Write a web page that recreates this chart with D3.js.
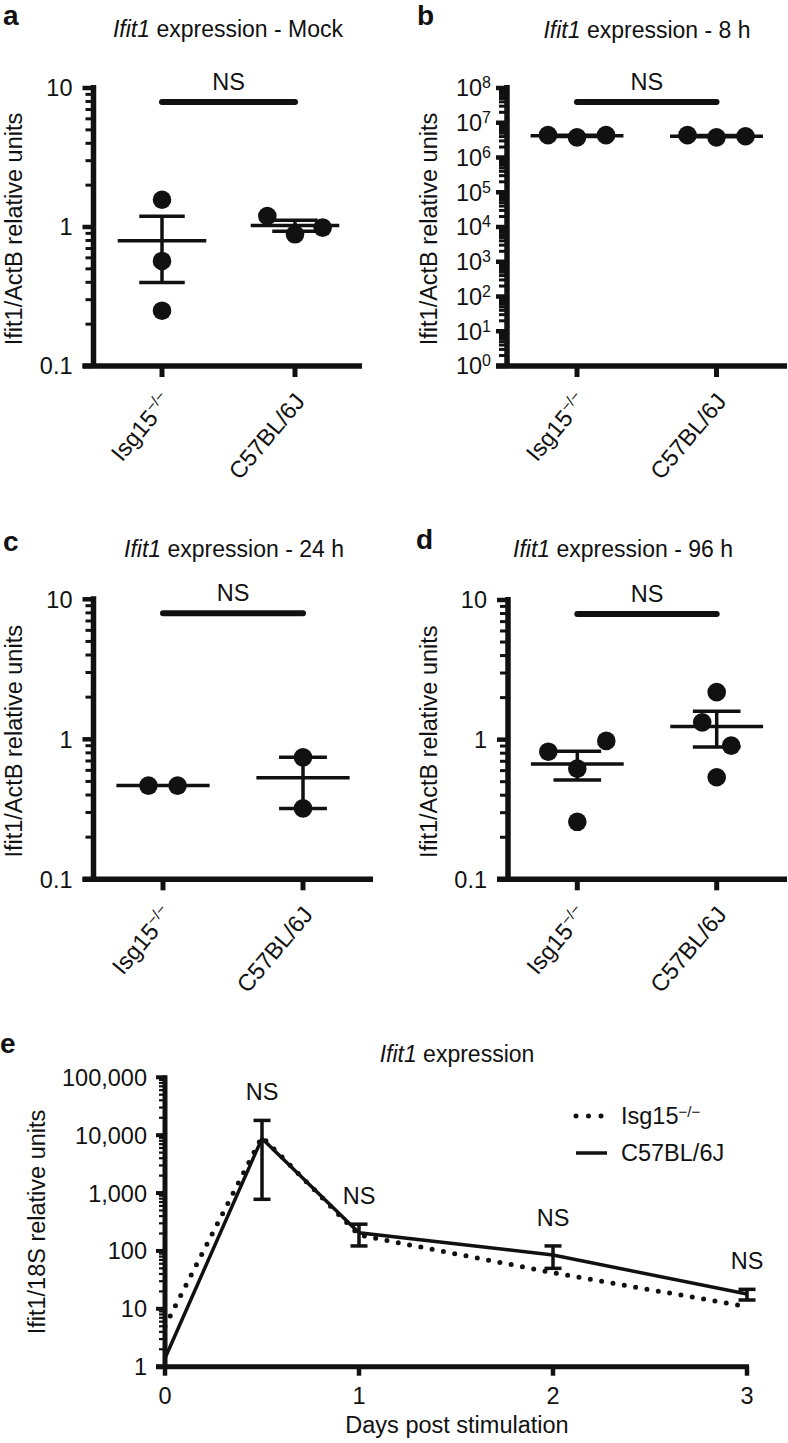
<!DOCTYPE html>
<html><head><meta charset="utf-8">
<script src="https://cdn.jsdelivr.net/npm/d3@7"></script>
<style>
body{margin:0;background:#fff}
svg{display:block}
text{font-family:"Liberation Sans",Arial,Helvetica,sans-serif;fill:#111}
</style>
</head><body>
<svg id="fig" width="788" height="1443"></svg>
<script>
// ---------- data ----------
const groups = ["Isg15", "C57BL/6J"];
const groupSup = ["\u2212/\u2212", ""];
const mockIsg15 = [1.57, 0.57, 0.25];
const mockC57 = [1.20, 0.886, 0.99];
const h8Isg15 = [4.4e6, 3.8e6, 4.4e6];
const h8C57 = [4.4e6, 3.8e6, 4.1e6];
const h24Isg15 = [0.467, 0.467];
const h24C57 = [0.743, 0.321];
const h96Isg15 = [0.82, 0.62, 0.98, 0.258];
const h96C57 = [2.19, 1.33, 0.906, 0.538];
const decimalTicks = [0.1, 1, 10];
const exponentTicks = [0, 1, 2, 3, 4, 5, 6, 7, 8];
const days = [0, 0.5, 1, 2, 3];
const dayTicks = [0, 1, 2, 3];
const courseIsg15 = [5, 9400, 188, 42, 10.9];
const courseC57 = [1.4, 8800, 206, 85, 18];
const courseErrHigh = [null, 18000, 290, 122, 21.7];
const courseErrLow = [null, 780, 122, 50, 14.2];
const courseTicks = [1, 10, 100, 1000, 10000, 100000];
const nsDays = [0.5, 1, 2, 3];

// ---------- helpers ----------
const svg = d3.select("#fig");
const INK = "#111";
const FS = "23.5px";
const TFS = "23px";

function minorValues(lo, hi) {
  const out = [];
  for (let e = Math.round(Math.log10(lo)); e < Math.round(Math.log10(hi)); e++)
    for (let k = 2; k <= 9; k++) out.push(k * Math.pow(10, e));
  return out;
}

function swarmOffsets(values, y, spacing, tol) {
  const idx = values.map((v, i) => i).sort((a, b) => y(values[a]) - y(values[b]));
  const clusters = [];
  let cur = [idx[0]];
  for (let k = 1; k < idx.length; k++) {
    if (y(values[idx[k]]) - y(values[idx[k - 1]]) < tol) cur.push(idx[k]);
    else { clusters.push(cur); cur = [idx[k]]; }
  }
  clusters.push(cur);
  const off = new Array(values.length).fill(0);
  clusters.forEach(c => {
    c.sort((a, b) => a - b);
    c.forEach((i, j) => off[i] = (j - (c.length - 1) / 2) * spacing);
  });
  return off;
}

function titleText(g, x, y, rest) {
  const t = g.append("text").attr("x", x).attr("y", y).attr("text-anchor", "middle").style("font-size", TFS);
  t.append("tspan").style("font-style", "italic").text("Ifit1");
  t.append("tspan").text(rest);
}

function dotPanel(cfg) {
  const g = svg.append("g");
  const y = d3.scaleLog().domain(cfg.domain).range([cfg.yBot, cfg.yTop]);
  const x = d3.scalePoint().domain(groups).range(cfg.cats);
  const dist = cfg.cats[1] - cfg.cats[0];

  g.append("text").attr("x", cfg.lx).attr("y", cfg.ly).style("font-size", "28px").style("font-weight", "bold").text(cfg.letter);
  titleText(g, cfg.tx, cfg.ty, cfg.title);

  g.append("text").attr("transform", `translate(${cfg.ylx},${(cfg.yTop + cfg.yBot) / 2 + 2}) rotate(-90)`)
    .attr("text-anchor", "middle").style("font-size", FS).text("Ifit1/ActB relative units");

  g.selectAll(".mt").data(minorValues(cfg.domain[0], cfg.domain[1])).enter().append("line")
    .attr("x1", cfg.x0).attr("x2", cfg.x0 - 8).attr("y1", d => y(d)).attr("y2", d => y(d))
    .attr("stroke", INK).attr("stroke-width", 3);
  g.selectAll(".Mt").data(cfg.ticks).enter().append("line")
    .attr("x1", cfg.x0).attr("x2", cfg.x0 - 11).attr("y1", d => y(d)).attr("y2", d => y(d))
    .attr("stroke", INK).attr("stroke-width", 4.5);
  g.append("line").attr("x1", cfg.x0).attr("x2", cfg.x0).attr("y1", cfg.yTop - 3).attr("y2", cfg.yBot)
    .attr("stroke", INK).attr("stroke-width", 5.5);
  g.append("line").attr("x1", cfg.x0 - 11).attr("x2", cfg.x1).attr("y1", cfg.yBot).attr("y2", cfg.yBot)
    .attr("stroke", INK).attr("stroke-width", 5.5);
  cfg.ticks.forEach(v => {
    const t = g.append("text").attr("x", cfg.x0 - cfg.gap).attr("y", y(v)).attr("dy", "0.36em")
      .attr("text-anchor", "end").style("font-size", FS);
    if (cfg.exp) {
      const e = Math.round(Math.log10(v));
      t.append("tspan").text("10");
      t.append("tspan").attr("dy", "-0.5em").style("font-size", "16px").text(String(e));
    } else {
      t.text(String(v));
    }
  });
  groups.forEach((gname, i) => {
    const cx = x(gname);
    g.append("line").attr("x1", cx).attr("x2", cx).attr("y1", cfg.yBot).attr("y2", cfg.yBot + 11)
      .attr("stroke", INK).attr("stroke-width", 5);
    const t = g.append("text")
      .attr("transform", `translate(${cx + 11},${cfg.yBot + 36}) rotate(-50)`)
      .attr("text-anchor", "end").style("font-size", FS);
    t.append("tspan").text(gname);
    if (groupSup[i]) t.append("tspan").attr("dy", "-0.6em").style("font-size", "15px").text(groupSup[i]);
  });

  const nsY = cfg.yTop + 14;
  g.append("line").attr("x1", x(groups[0])).attr("x2", x(groups[1])).attr("y1", nsY).attr("y2", nsY)
    .attr("stroke", INK).attr("stroke-width", 6).attr("stroke-linecap", "round");
  g.append("text").attr("x", (x(groups[0]) + x(groups[1])) / 2).attr("y", nsY - 12)
    .attr("text-anchor", "middle").style("font-size", FS).text("NS");

  cfg.data.forEach((vals, i) => {
    const cx = x(groups[i]);
    const off = swarmOffsets(vals, y, 0.208 * dist, 26);
    g.selectAll(null).data(vals).enter().append("circle")
      .attr("cx", (d, j) => cx + off[j]).attr("cy", d => y(d)).attr("r", 9.3).attr("fill", INK);
    const m = d3.mean(vals);
    const sem = vals.length > 1 ? d3.deviation(vals) / Math.sqrt(vals.length) : 0;
    const mw = 0.333 * dist, cw = 0.171 * dist;
    g.append("line").attr("x1", cx - mw).attr("x2", cx + mw).attr("y1", y(m)).attr("y2", y(m))
      .attr("stroke", INK).attr("stroke-width", 3.5);
    if (sem > 0) {
      g.append("line").attr("x1", cx).attr("x2", cx).attr("y1", y(m + sem)).attr("y2", y(m - sem))
        .attr("stroke", INK).attr("stroke-width", 3.5);
      [m + sem, m - sem].forEach(v => g.append("line").attr("x1", cx - cw).attr("x2", cx + cw)
        .attr("y1", y(v)).attr("y2", y(v)).attr("stroke", INK).attr("stroke-width", 3.5));
    }
  });
}

dotPanel({letter: "a", lx: 3, ly: 25, title: " expression - Mock", tx: 228, ty: 37,
  x0: 93.5, x1: 362, yTop: 88, yBot: 366, cats: [162, 295], domain: [0.1, 10],
  ticks: decimalTicks, exp: false, gap: 21, ylx: 22, data: [mockIsg15, mockC57]});
dotPanel({letter: "b", lx: 417, ly: 25, title: " expression - 8 h", tx: 647, ty: 38,
  x0: 507, x1: 787, yTop: 88, yBot: 366, cats: [577, 716.5], domain: [1, 1e8],
  ticks: exponentTicks.map(e => Math.pow(10, e)), exp: true, gap: 16, ylx: 437, data: [h8Isg15, h8C57]});
dotPanel({letter: "c", lx: 3, ly: 551, title: " expression - 24 h", tx: 234, ty: 557,
  x0: 93.5, x1: 373, yTop: 599.3, yBot: 879.3, cats: [163, 303], domain: [0.1, 10],
  ticks: decimalTicks, exp: false, gap: 21, ylx: 22, data: [h24Isg15, h24C57]});
dotPanel({letter: "d", lx: 416, ly: 549, title: " expression - 96 h", tx: 623, ty: 557,
  x0: 508, x1: 787, yTop: 600, yBot: 879.3, cats: [577.3, 716.7], domain: [0.1, 10],
  ticks: decimalTicks, exp: false, gap: 21, ylx: 437, data: [h96Isg15, h96C57]});

// ---------- panel e ----------
(function () {
  const g = svg.append("g");
  const x0 = 165, x1 = 747, yTop = 1077.3, yBot = 1366.7;
  const x = d3.scaleLinear().domain([0, 3]).range([x0, x1]);
  const y = d3.scaleLog().domain([1, 100000]).range([yBot, yTop]);

  g.append("text").attr("x", 0).attr("y", 1053).style("font-size", "28px").style("font-weight", "bold").text("e");
  titleText(g, 457, 1062, " expression");
  g.append("text").attr("transform", `translate(45,${(yTop + yBot) / 2}) rotate(-90)`)
    .attr("text-anchor", "middle").style("font-size", FS).text("Ifit1/18S relative units");
  g.append("text").attr("x", 457).attr("y", 1433).attr("text-anchor", "middle").style("font-size", FS)
    .text("Days post stimulation");

  g.selectAll(".mt").data(minorValues(1, 100000)).enter().append("line")
    .attr("x1", x0).attr("x2", x0 - 6).attr("y1", d => y(d)).attr("y2", d => y(d))
    .attr("stroke", INK).attr("stroke-width", 2.2);
  g.selectAll(".Mt").data(courseTicks).enter().append("line")
    .attr("x1", x0).attr("x2", x0 - 9).attr("y1", d => y(d)).attr("y2", d => y(d))
    .attr("stroke", INK).attr("stroke-width", 4);
  g.append("line").attr("x1", x0).attr("x2", x0).attr("y1", yTop - 2).attr("y2", yBot)
    .attr("stroke", INK).attr("stroke-width", 5);
  g.append("line").attr("x1", x0 - 9).attr("x2", x1 + 2).attr("y1", yBot).attr("y2", yBot)
    .attr("stroke", INK).attr("stroke-width", 5);
  g.selectAll(".yl").data(courseTicks).enter().append("text")
    .attr("x", x0 - 18).attr("y", d => y(d)).attr("dy", "0.36em").attr("text-anchor", "end")
    .style("font-size", FS).text(d3.format(","));
  g.selectAll(".xt").data(dayTicks).enter().append("line")
    .attr("x1", d => x(d)).attr("x2", d => x(d)).attr("y1", yBot).attr("y2", yBot + 9)
    .attr("stroke", INK).attr("stroke-width", 4.5);
  g.selectAll(".xl").data(dayTicks).enter().append("text")
    .attr("x", d => x(d)).attr("y", 1404).attr("text-anchor", "middle").style("font-size", FS).text(d => d);

  const line = d3.line().x((d, i) => x(days[i])).y(d => y(d));
  g.append("path").attr("d", line(courseIsg15)).attr("fill", "none").attr("stroke", INK)
    .attr("stroke-width", 5).attr("stroke-dasharray", "0 11.5").attr("stroke-linecap", "round");
  g.append("path").attr("d", line(courseC57)).attr("fill", "none").attr("stroke", INK).attr("stroke-width", 3.5);

  days.forEach((d, i) => {
    if (courseErrHigh[i] == null) return;
    const cx = x(d);
    g.append("line").attr("x1", cx).attr("x2", cx).attr("y1", y(courseErrHigh[i])).attr("y2", y(courseErrLow[i]))
      .attr("stroke", INK).attr("stroke-width", 3.5);
    [courseErrHigh[i], courseErrLow[i]].forEach(v => g.append("line").attr("x1", cx - 8.5).attr("x2", cx + 8.5)
      .attr("y1", y(v)).attr("y2", y(v)).attr("stroke", INK).attr("stroke-width", 3.5));
  });
  nsDays.forEach(d => {
    const i = days.indexOf(d);
    g.append("text").attr("x", x(d)).attr("y", y(courseErrHigh[i]) - 20).attr("text-anchor", "middle")
      .style("font-size", FS).text("NS");
  });

  g.append("line").attr("x1", 576).attr("x2", 602).attr("y1", 1116).attr("y2", 1116).attr("stroke", INK)
    .attr("stroke-width", 5).attr("stroke-dasharray", "0 12.5").attr("stroke-linecap", "round");
  g.append("line").attr("x1", 576).attr("x2", 607).attr("y1", 1153).attr("y2", 1153).attr("stroke", INK).attr("stroke-width", 3.5);
  const t1 = g.append("text").attr("x", 621).attr("y", 1124).style("font-size", FS);
  t1.append("tspan").text(groups[0]);
  t1.append("tspan").attr("dy", "-0.5em").style("font-size", "15px").text(groupSup[0]);
  g.append("text").attr("x", 621).attr("y", 1161).style("font-size", FS).text(groups[1]);
})();
</script>
</body></html>
